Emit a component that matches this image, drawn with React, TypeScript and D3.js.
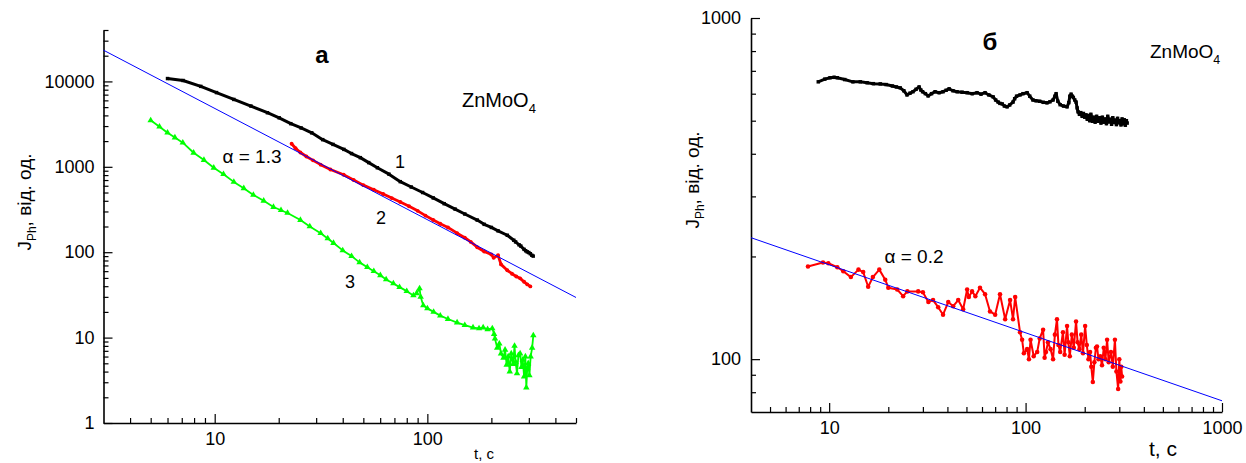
import React, { useEffect, useRef } from "react";
import * as d3 from "d3";

// ---- panel "а" : J_Ph(t), log-log ----
const curve1Time = [6.0, 7.1, 8.6, 10.2, 12.3, 14.8, 17.7, 20.1, 22.8, 25.5, 28.6, 32.2, 36.0, 40.5, 44.0, 48.4, 53.0, 58.2, 66.0, 74.6, 84.0, 95.0, 106.6, 120, 135, 150, 171.6, 185, 200, 215, 237.6, 255, 260, 270, 275, 285, 290, 295, 300, 305, 310, 314.6];
const curve1J = [10800, 10250, 8750, 7400, 6150, 5150, 4300, 3750, 3200, 2850, 2500, 2080, 1830, 1600, 1430, 1280, 1120, 975, 820, 670, 580, 500, 432, 370, 320, 280, 238, 212, 195, 178, 158, 138, 132, 122, 118, 108, 104, 101, 99, 96, 92, 90];

const curve2Time = [23, 24, 25.3, 27, 29, 31.5, 35, 40.4, 45, 50, 56, 62, 68, 74.6, 82, 90, 98, 106.6, 115, 125, 138, 150, 160, 171.6, 185, 200, 205, 215, 222, 237.6, 250, 262, 273, 285, 295, 305];
const curve2J = [1860, 1650, 1470, 1320, 1190, 1060, 930, 806, 700, 610, 540, 480, 430, 387, 345, 305, 268, 238, 215, 195, 167, 148, 132, 114.5, 102, 94, 86, 92, 72, 61.4, 56, 52, 49.4, 45, 42, 39.8];

const curve3Time = [5.0, 5.5, 6.0, 6.5, 7.08, 7.96, 8.9, 9.9, 11, 12.3, 13.7, 15.2, 17, 18.9, 20.5, 22.0, 25.3, 28, 31.5, 34, 36.2, 40, 44, 48, 52.2, 56, 60.1, 64, 69.2, 74, 80, 86, 89, 91.9, 93, 95.7, 100, 107, 115, 125, 138, 150, 164, 175, 183, 192, 202, 206, 208, 213, 218, 222, 228, 232, 236, 240, 244, 248, 253, 257, 260, 264, 268, 273, 277, 281, 285, 289, 292, 295, 298, 302, 306, 311, 315];
const curve3J = [3500, 2950, 2510, 2200, 1915, 1460, 1200, 973, 820, 666, 560, 469, 400, 338, 310, 288, 238, 200, 167, 145, 128, 105, 90, 76, 66.7, 60, 53.6, 48, 43, 39, 35, 31.2, 33, 37.7, 30, 23.8, 22, 20, 18.1, 16.5, 15, 14, 13.1, 12.8, 13.1, 12.5, 12.8, 11, 9.7, 7.6, 8.5, 6.5, 5.8, 7.2, 4.8, 6.0, 4.0, 6.5, 4.9, 8.0, 5.2, 3.8, 6.2, 6.5, 4.5, 5.5, 3.5, 6.0, 2.6, 4.4, 5.0, 3.6, 6.0, 7.6, 10.6];

const fitATime = [3, 500];
const fitAJ = [23200, 29.5];

// ---- panel "б" ----
const blackBTime = [8.8, 9.5, 10.1, 10.6, 11, 12, 13.2, 14.4, 15.6, 16.8, 18.2, 19.5, 21, 22, 23, 24, 24.9, 25.8, 26.7, 27.7, 28.7, 29.3, 29.9, 30.9, 31.9, 33.2, 34.6, 36.3, 38, 39.4, 40.8, 42.7, 44.8, 47.5, 50.4, 53.5, 56.6, 59.3, 62.2, 65, 68.4, 70.4, 72.5, 74, 76, 78, 80.5, 83, 86.3, 88, 90, 93.7, 97, 101.8, 105, 109, 113, 118, 123, 128.5, 133, 138, 141, 143, 146, 150, 156, 162.6, 166, 168, 170.5, 173, 175, 178, 180.7, 183, 185, 188, 191, 194, 197, 200, 203, 206, 209, 212, 215, 219, 222, 226, 230, 234, 238, 242, 246, 250, 254, 258, 262, 266, 270, 274, 278, 282, 286, 290, 294, 298, 302, 306, 310, 314, 318, 322, 326, 329];
const blackBJ = [650, 662, 668, 670, 668, 660, 650, 650, 646, 642, 641, 638, 632, 628, 624, 612, 595, 602, 608, 618, 628, 615, 608, 600, 591, 600, 608, 604, 608, 614, 620, 612, 608, 606, 604, 600, 604, 598, 604, 595, 587, 575, 567, 562, 560, 552, 549, 556, 567, 580, 590, 595, 600, 604, 590, 575, 572, 570, 566, 564, 568, 575, 590, 600, 570, 557, 552, 549, 565, 590, 598, 590, 585, 575, 567, 545, 531, 522, 528, 515, 525, 512, 520, 505, 518, 500, 522, 498, 512, 495, 515, 498, 510, 492, 512, 495, 506, 490, 515, 496, 505, 488, 510, 494, 502, 487, 508, 493, 500, 486, 506, 490, 503, 485, 500, 492];

const redBTime = [7.8, 9.3, 9.9, 11, 11.8, 12.9, 14.1, 14.9, 15.8, 16.7, 18, 19.3, 20, 22.2, 23.8, 25, 28.4, 30, 32, 33.8, 35.9, 38, 40.4, 42.8, 45.4, 48.1, 50.4, 51.4, 53.4, 55.5, 58.6, 62.2, 65.9, 70, 74.1, 78.7, 83.4, 86.3, 88.5, 93.7, 96, 98, 101.8, 104, 106, 110, 114.6, 118, 122.8, 125, 127, 130, 134, 138, 141, 144.5, 147, 150, 155, 158, 162.6, 165, 168, 172, 176, 180.7, 184, 188, 192, 196, 201, 205, 209, 213, 216, 220, 224, 228, 231, 235, 240, 245, 250, 255, 260, 265, 272, 278, 285, 290, 296, 300, 304, 307, 310];
const redBJ = [187, 192, 191, 186, 181, 174, 183, 180, 163, 174, 183, 171, 162, 160, 153, 158, 158, 157, 147, 149, 142, 135, 147, 143, 149, 140, 160, 152, 158, 153, 162, 155, 138, 135, 155, 131, 149, 131, 152, 120, 114, 104, 107, 100, 114, 102, 105, 115, 122, 101, 105, 112, 107, 100, 118, 131, 110, 105, 120, 103, 125, 112, 102, 118, 108, 129, 112, 107, 118, 104, 125, 110, 100, 105, 95, 85.7, 98, 108, 109, 100, 102, 96, 108, 100, 114, 98, 105, 95, 114, 92, 81.7, 100, 86, 95, 89];

const fitBTime = [4, 1000];
const fitBJ = [227, 75.5];

const FONT = "'Liberation Sans', Arial, Helvetica, sans-serif";

function drawSeries(g, x, y, t, j, color, width, symbol, size) {
  const line = d3
    .line<number>()
    .x((_, i) => x(t[i]))
    .y(d => y(d));
  g.append("path")
    .attr("d", line(j))
    .attr("fill", "none")
    .attr("stroke", color)
    .attr("stroke-width", width)
    .attr("stroke-linejoin", "round");
  if (symbol) {
    g.selectAll(null)
      .data(j)
      .enter()
      .append("path")
      .attr("d", d3.symbol().type(symbol).size(size))
      .attr("transform", (d, i) => `translate(${x(t[i])},${y(d)})`)
      .attr("fill", color);
  }
}

function drawAxes(g, x, y, cfg) {
  const x0 = cfg.xRange[0];
  const y0 = cfg.yRange[0];

  g.append("g")
    .attr("transform", `translate(0,${y0})`)
    .call(d3.axisBottom(x).tickValues(cfg.xMinor).tickFormat(() => "").tickSizeInner(-5).tickSizeOuter(0))
    .call(s => s.select(".domain").remove());
  g.append("g")
    .attr("transform", `translate(${x0},0)`)
    .call(d3.axisLeft(y).tickValues(cfg.yMinor).tickFormat(() => "").tickSizeInner(-5).tickSizeOuter(0))
    .call(s => s.select(".domain").remove());

  g.append("g")
    .attr("transform", `translate(0,${y0})`)
    .call(d3.axisBottom(x).tickValues(cfg.xMajor).tickFormat(d3.format("d")).tickSizeInner(-9).tickSizeOuter(0).tickPadding(9));
  g.append("g")
    .attr("transform", `translate(${x0},0)`)
    .call(d3.axisLeft(y).tickValues(cfg.yMajor).tickFormat(d3.format("d")).tickSizeInner(-9).tickSizeOuter(0).tickPadding(cfg.yPad));

  g.selectAll(".tick line").attr("stroke", "#000").attr("stroke-width", 1.2);
  g.selectAll(".domain").attr("stroke", "#000").attr("stroke-width", 1.6);
  g.selectAll(".tick text").attr("font-family", FONT).attr("font-size", 18).attr("fill", "#000");
}

function yLabel(g, cx, cy) {
  const t = g.append("text")
    .attr("transform", `translate(${cx},${cy}) rotate(-90)`)
    .attr("text-anchor", "middle")
    .attr("font-family", FONT)
    .attr("font-size", 19);
  t.append("tspan").text("J");
  t.append("tspan").text("Ph").attr("font-size", 12).attr("dy", 5);
  t.append("tspan").text(", від. од.").attr("dy", -5);
}

function formula(g, x, y, size) {
  const t = g.append("text").attr("x", x).attr("y", y).attr("font-family", FONT).attr("font-size", size);
  t.append("tspan").text("ZnMoO");
  t.append("tspan").text("4").attr("font-size", size * 0.65).attr("dy", 6);
}

function text(g, x, y, s, size, anchor = "middle", weight = "normal") {
  g.append("text")
    .attr("x", x)
    .attr("y", y)
    .attr("text-anchor", anchor)
    .attr("font-family", FONT)
    .attr("font-size", size)
    .attr("font-weight", weight)
    .text(s);
}

const minorsOf = (decades: number[]) => decades.flatMap(d => [2, 3, 4, 5, 6, 7, 8, 9].map(k => k * d));

export default function App() {
  const ref = useRef<SVGSVGElement>(null);

  useEffect(() => {
    const svg = d3.select(ref.current);
    svg.selectAll("*").remove();

    // ---------- panel а ----------
    const cfgA = {
      xRange: [103.5, 576],
      yRange: [423, 30],
      xMajor: [10, 100],
      xMinor: [4, 5, 6, 7, 8, 9, 20, 30, 40, 50, 60, 70, 80, 90, 200, 300, 400, 500],
      yMajor: [1, 10, 100, 1000, 10000],
      yMinor: minorsOf([1, 10, 100, 1000]).concat([20000, 30000, 40000]),
      yPad: 9,
    };
    const xA = d3.scaleLog().domain([3, 500]).range(cfgA.xRange);
    const yA = d3.scaleLog().domain([1, 40000]).range(cfgA.yRange);
    const gA = svg.append("g");

    drawAxes(gA, xA, yA, cfgA);
    drawSeries(gA, xA, yA, curve3Time, curve3J, "#00ff00", 1.8, d3.symbolTriangle, 18);
    drawSeries(gA, xA, yA, curve1Time, curve1J, "#000000", 3, d3.symbolSquare, 12);
    drawSeries(gA, xA, yA, curve2Time, curve2J, "#ff0000", 2.8, d3.symbolCircle, 12);
    drawSeries(gA, xA, yA, fitATime, fitAJ, "#0000ff", 1, null, 0);

    text(gA, 322, 63, "а", 24, "middle", "bold");
    formula(gA, 462, 107, 20);
    text(gA, 400, 168, "1", 18);
    text(gA, 381, 224, "2", 18);
    text(gA, 350, 288, "3", 18);
    text(gA, 252, 163, "α = 1.3", 19);
    text(gA, 484, 459, "t, c", 15);
    yLabel(gA, 31, 202);

    // ---------- panel б ----------
    const cfgB = {
      xRange: [751, 1222],
      yRange: [412, 18],
      xMajor: [10, 100, 1000],
      xMinor: [5, 6, 7, 8, 9, 20, 30, 40, 50, 60, 70, 80, 90, 200, 300, 400, 500, 600, 700, 800, 900],
      yMajor: [100, 1000],
      yMinor: [80, 90, 200, 300, 400, 500, 600, 700, 800, 900],
      yPad: 10,
    };
    const xB = d3.scaleLog().domain([4, 1000]).range(cfgB.xRange);
    const yB = d3.scaleLog().domain([70, 1000]).range(cfgB.yRange);
    const gB = svg.append("g");

    drawAxes(gB, xB, yB, cfgB);
    drawSeries(gB, xB, yB, blackBTime, blackBJ, "#000000", 3, d3.symbolSquare, 12);
    drawSeries(gB, xB, yB, redBTime, redBJ, "#ff0000", 2, d3.symbolCircle, 16);
    drawSeries(gB, xB, yB, fitBTime, fitBJ, "#0000ff", 1, null, 0);

    text(gB, 990, 50, "б", 24, "middle", "bold");
    formula(gB, 1150, 58, 19);
    text(gB, 914, 263, "α = 0.2", 19);
    text(gB, 1163, 456, "t, c", 21);
    yLabel(gB, 699, 180);
  }, []);

  return (
    <svg
      ref={ref}
      width={1246}
      height={463}
      style={{ position: "absolute", left: 0, top: 0, background: "#fff" }}
    />
  );
}
